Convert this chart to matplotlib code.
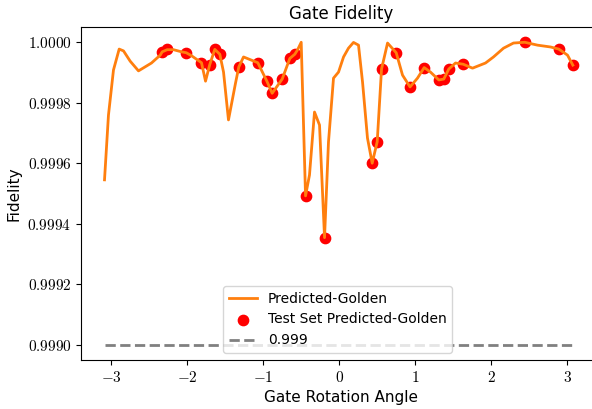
import matplotlib
matplotlib.use("Agg")
import matplotlib.pyplot as plt
from matplotlib.ticker import FuncFormatter

plt.rcParams['mathtext.fontset'] = 'cm'

# predicted - golden fidelity, sorted by rotation angle
angle = [-3.088, -3.036, -2.970, -2.895, -2.838, -2.750, -2.641, -2.470, -2.355, -2.329,
         -2.263, -2.180, -2.075, -2.013, -1.943, -1.812, -1.759, -1.703, -1.637, -1.571,
         -1.522, -1.457, -1.364, -1.321, -1.259, -1.071, -0.950, -0.882, -0.750, -0.650,
         -0.584, -0.549, -0.500, -0.443, -0.391, -0.325, -0.259, -0.193, -0.141, -0.075,
         -0.009, 0.057, 0.122, 0.188, 0.254, 0.307, 0.372, 0.434, 0.500, 0.557,
         0.636, 0.750, 0.833, 0.932, 1.030, 1.118, 1.201, 1.311, 1.376, 1.442,
         1.530, 1.632, 1.754, 1.925, 2.030, 2.162, 2.293, 2.442, 2.609, 2.780,
         2.889, 3.004, 3.074]
fidelity = [0.999545, 0.999759, 0.999908, 0.999977, 0.999971, 0.999937, 0.999905, 0.999931, 0.999957, 0.999968,
            0.999975, 0.999975, 0.999968, 0.999965, 0.999955, 0.999932, 0.999871, 0.999926, 0.999976, 0.999960,
            0.999901, 0.999743, 0.999865, 0.999918, 0.999951, 0.999932, 0.999870, 0.999831, 0.999878, 0.999946,
            0.999960, 0.999974, 0.9999995, 0.999492, 0.999561, 0.999769, 0.999726, 0.999354, 0.999670, 0.999881,
            0.999901, 0.999951, 0.999980, 0.999999, 0.999990, 0.999868, 0.999683, 0.999600, 0.999671, 0.999911,
            0.999997, 0.999965, 0.999891, 0.999852, 0.999881, 0.999916, 0.999901, 0.999875, 0.999878, 0.999911,
            0.999931, 0.999927, 0.999914, 0.999931, 0.999951, 0.999980, 0.999997, 0.9999995, 0.999990, 0.999984,
            0.999977, 0.999957, 0.999924]

test_angle = [-2.329, -2.263, -2.013, -1.812, -1.703, -1.637, -1.571, -1.321, -1.071, -0.950,
              -0.882, -0.750, -0.650, -0.584, -0.443, -0.193, 0.434, 0.500, 0.557, 0.750,
              0.932, 1.118, 1.311, 1.376, 1.442, 1.632, 2.442, 2.889, 3.074]
test_fidelity = [0.999968, 0.999976, 0.999965, 0.999932, 0.999926, 0.999976, 0.999960, 0.999918, 0.999932, 0.999870,
                 0.999831, 0.999878, 0.999946, 0.999960, 0.999492, 0.999354, 0.999600, 0.999671, 0.999911, 0.999965,
                 0.999852, 0.999916, 0.999875, 0.999878, 0.999911, 0.999927, 0.9999995, 0.999977, 0.999924]

threshold = 0.999

fig = plt.figure(figsize=(5.92, 4.09), dpi=100)
# axes run a little past the right edge, as in the cropped original
ax = fig.add_axes([0.137, 0.12, 0.878, 0.814])

ax.scatter(test_angle, test_fidelity, color='red', s=55, zorder=2, label='Test Set Predicted-Golden')
ax.plot(angle, fidelity, color='#ff7f0e', lw=2, zorder=3, label='Predicted-Golden')
ax.hlines(threshold, min(angle), max(angle), colors='gray', linestyles='--', lw=2, label='0.999')

ax.set_xlim(-3.396, 3.443)
ax.set_ylim(0.99895, 1.00005)
ax.set_xticks([-3, -2, -1, 0, 1, 2, 3])
ax.set_yticks([0.9990, 0.9992, 0.9994, 0.9996, 0.9998, 1.0])
ax.xaxis.set_major_formatter(FuncFormatter(lambda v, p: f'${v:.0f}$'))
ax.yaxis.set_major_formatter(FuncFormatter(lambda v, p: f'${v:.4f}$'))
ax.tick_params(labelsize=11)

ax.set_title('Gate Fidelity', fontsize=12)
ax.set_xlabel('Gate Rotation Angle', fontsize=11)
ax.set_ylabel('Fidelity', fontsize=11)

h, l = ax.get_legend_handles_labels()
order = [l.index('Predicted-Golden'), l.index('Test Set Predicted-Golden'), l.index('0.999')]
ax.legend([h[i] for i in order], [l[i] for i in order], loc='lower center',
          bbox_to_anchor=(0.494, 0.0), fontsize=10)

fig.savefig('out.png', dpi=100)
